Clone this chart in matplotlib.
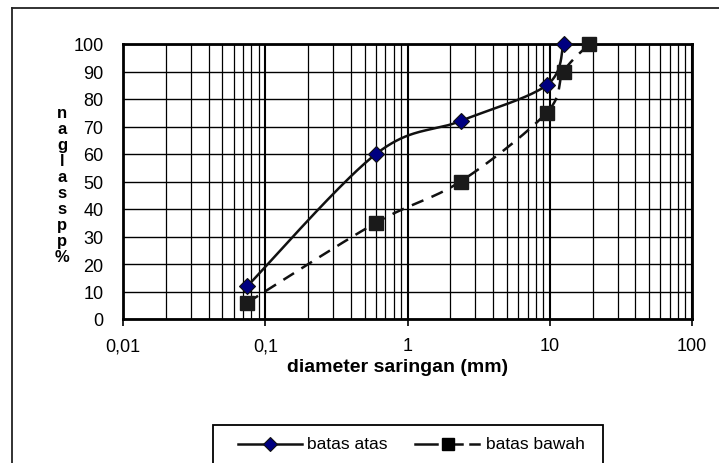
import numpy as np
import matplotlib
matplotlib.use("Agg")
import matplotlib.pyplot as plt
from matplotlib.lines import Line2D
from matplotlib.patches import Rectangle

plt.rcParams['font.family'] = ['Liberation Sans', 'DejaVu Sans']

# sieve sizes (mm) and percent passing for the grading envelope
diameter_atas = [0.075, 0.6, 2.36, 9.5, 12.5]
lolos_atas = [12, 60, 72, 85, 100]
diameter_bawah = [0.075, 0.6, 2.36, 9.5, 12.5, 19]
lolos_bawah = [6, 35, 50, 75, 90, 100]

x_ticks = [0.01, 0.1, 1, 10, 100]
x_ticklabels = ['0,01', '0,1', '1', '10', '100']
y_ticks = list(range(0, 101, 10))

label_x = 'diameter saringan (mm)'
label_y_chars = ['n', 'a', 'g', 'l', 'a', 's', 's', 'p', 'p', '%']
legend_names = ['batas atas', 'batas bawah']

W, H = 719, 464
fig = plt.figure(figsize=(W / 100, H / 100), dpi=100)
fig.patch.set_facecolor('white')


def px(x, y):
    return x / W, 1 - y / H


def smooth(xs, ys, n=40):
    """Excel-style smoothed line: cubic Bezier through the points (log x)."""
    P = np.column_stack([np.log10(xs), ys]).astype(float)
    Q = np.vstack([P[0], P, P[-1]])
    out = []
    t = np.linspace(0, 1, n)[:, None]
    for i in range(1, len(Q) - 2):
        p0, p3 = Q[i], Q[i + 1]
        c1 = p0 + (Q[i + 1] - Q[i - 1]) / 6.0
        c2 = p3 - (Q[i + 2] - Q[i]) / 6.0
        seg = ((1 - t) ** 3) * p0 + 3 * ((1 - t) ** 2) * t * c1 \
            + 3 * (1 - t) * t ** 2 * c2 + t ** 3 * p3
        out.append(seg if i == 1 else seg[1:])
    out = np.vstack(out)
    return 10 ** out[:, 0], out[:, 1]


# outer chart frame (runs off the right and bottom edges)
fig.add_artist(Line2D([12 / W, 1.0], [1 - 9 / H] * 2, color='#222222', lw=1.3))
fig.add_artist(Line2D([12 / W] * 2, [0, 1 - 9 / H], color='#222222', lw=1.3))

l, b = px(123, 320)
r, t = px(692, 45)
ax = fig.add_axes([l, b, r - l, t - b])
ax.set_facecolor('white')
ax.set_xscale('log')
ax.set_xlim(0.01, 100)
ax.set_ylim(0, 100)

# grid: decade lines and 2..9 subdivisions, horizontal every 10 %
for dec in [0.01, 0.1, 1, 10]:
    for k in range(2, 10):
        ax.axvline(dec * k, color='black', lw=0.9, zorder=1)
for v in x_ticks:
    ax.axvline(v, color='black', lw=1.5, zorder=1)
for v in y_ticks:
    ax.axhline(v, color='black', lw=1.0, zorder=1)

for s in ax.spines.values():
    s.set_linewidth(2.0)
    s.set_color('black')

ax.set_xticks(x_ticks)
ax.set_xticklabels(x_ticklabels)
ax.xaxis.set_minor_locator(matplotlib.ticker.NullLocator())
ax.set_yticks(y_ticks)
ax.tick_params(axis='x', length=5, width=1.2, direction='out', pad=8,
               labelsize=13)
ax.tick_params(axis='y', length=0, pad=14, labelsize=13)
ax.set_xlabel(label_x, fontsize=14, fontweight='bold')
ax.xaxis.set_label_coords((398 - 123) / 569, -(367 - 320) / 275, ax.transAxes)
ax.xaxis.label.set_va('center')

# upper limit: solid line, navy diamonds
sx, sy = smooth(diameter_atas, lolos_atas)
ax.plot(sx, sy, color='#111111', lw=1.8, zorder=3, clip_on=False)
ax.plot(diameter_atas, lolos_atas, ls='none', marker='D', ms=8.5,
        mfc='#000080', mec='#111111', mew=0.8, zorder=4, clip_on=False)

# lower limit: dashed line, black squares
bx, by = smooth(diameter_bawah, lolos_bawah)
ax.plot(bx, by, color='#111111', lw=1.8, dashes=(5, 3.5), zorder=3,
        clip_on=False)
ax.plot(diameter_bawah, lolos_bawah, ls='none', marker='s', ms=9.5,
        mfc='#1a1a1a', mec='#1a1a1a', zorder=4, clip_on=False)

# stacked vertical y-axis label, one character per line
fig.text(62 / W, 1 - 106 / H, '\n'.join(label_y_chars), fontsize=12,
         fontweight='bold', ha='center', va='top', multialignment='center',
         linespacing=1.08)

# legend box
x0, y0 = px(213, 426)
fig.add_artist(Rectangle((x0, -0.05), px(603, 0)[0] - x0, y0 + 0.05,
                         facecolor='white', edgecolor='black', lw=1.3,
                         transform=fig.transFigure))
ly = px(0, 445)[1]
fig.add_artist(Line2D([238 / W, 302 / W], [ly, ly], color='#111111', lw=1.8))
fig.add_artist(Line2D([270 / W], [ly], ls='none', marker='D', ms=7,
                      mfc='#000080', mec='#111111', mew=0.8))
fig.text(307 / W, ly, legend_names[0], fontsize=12.5, va='center', ha='left')
for xa, xb in [(415, 437), (443, 462), (470, 479)]:
    fig.add_artist(Line2D([xa / W, xb / W], [ly, ly], color='#111111', lw=1.8))
fig.add_artist(Line2D([448 / W], [ly], ls='none', marker='s', ms=8.5,
                      mfc='black', mec='black'))
fig.text(486 / W, ly, legend_names[1], fontsize=12.5, va='center', ha='left')

fig.savefig('out.png', dpi=100, facecolor=fig.get_facecolor())
